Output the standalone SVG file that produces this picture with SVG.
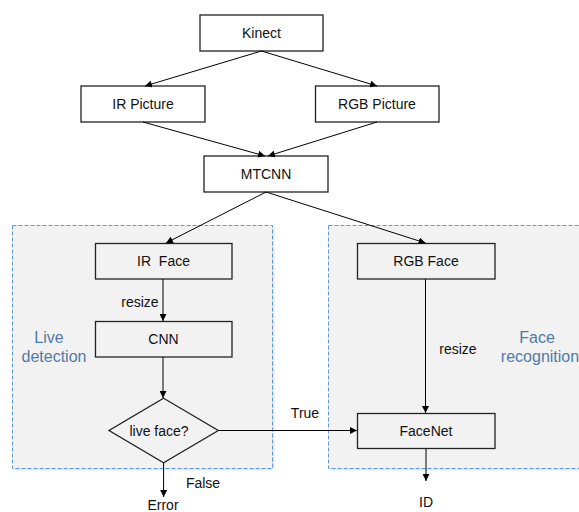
<svg xmlns="http://www.w3.org/2000/svg" width="579" height="512" viewBox="0 0 579 512">
<defs>
<marker id="ah" viewBox="0 0 10 10" refX="10" refY="5" markerWidth="7" markerHeight="7" markerUnits="userSpaceOnUse" orient="auto">
<path d="M0,0 L10,5 L0,10 z" fill="#000"/>
</marker>
<filter id="sh" x="-5%" y="-5%" width="110%" height="110%">
<feDropShadow dx="1" dy="1" stdDeviation="1" flood-color="#000" flood-opacity="0.15"/>
</filter>
</defs>
<style>
text{font-family:"Liberation Sans",Arial,sans-serif;font-size:14px;fill:#111;text-anchor:middle}
.box{fill:#fff;stroke:#222;stroke-width:1.3}
.gbox{fill:#f2f2f2;stroke:#222;stroke-width:1.3}
.cont{fill:#f2f2f2;stroke:#5b9bd5;stroke-width:1;stroke-dasharray:4 2;filter:url(#sh)}
text.lbl{fill:#4f7aa8;font-size:16px}
.conn line{stroke:#000;stroke-width:1;fill:none;marker-end:url(#ah)}
</style>
<rect width="579" height="512" fill="#fff"/>
<g id="live-detection">
<rect class="cont" x="12.5" y="225.5" width="260" height="243"/>
<text class="lbl" x="49" y="343">Live</text>
<text class="lbl" x="54" y="362">detection</text>
</g>
<g id="face-recognition">
<rect class="cont" x="328.5" y="225.5" width="260" height="243"/>
<text class="lbl" x="537" y="343">Face</text>
<text class="lbl" x="540" y="362">recognition</text>
</g>
<g id="kinect"><rect class="box" x="200" y="15" width="123" height="36"/><text x="261.5" y="38">Kinect</text></g>
<g id="ir-picture"><rect class="box" x="81" y="86" width="124" height="36"/><text x="143" y="109">IR Picture</text></g>
<g id="rgb-picture"><rect class="box" x="315.5" y="86" width="123.5" height="36"/><text x="377" y="109">RGB Picture</text></g>
<g id="mtcnn"><rect class="box" x="204" y="156" width="124" height="36"/><text x="266" y="179">MTCNN</text></g>
<g id="ir-face"><rect class="gbox" x="95.5" y="243.5" width="136.5" height="35.5"/><text x="163.5" y="266" xml:space="preserve">IR  Face</text></g>
<g id="cnn"><rect class="gbox" x="95.5" y="321.5" width="136.5" height="35.5"/><text x="163.5" y="344">CNN</text></g>
<g id="live-face"><polygon class="gbox" points="163.6,398.3 218.3,430.5 163.6,462.7 109,430.5"/><text x="159" y="436">live face?</text></g>
<g id="rgb-face"><rect class="gbox" x="357.5" y="243.5" width="137.5" height="35.5"/><text x="426" y="266">RGB Face</text></g>
<g id="facenet"><rect class="gbox" x="357.5" y="413.5" width="137.5" height="35"/><text x="426" y="436">FaceNet</text></g>
<g id="error"><text x="163" y="510">Error</text></g>
<g id="id"><text x="426" y="507">ID</text></g>
<g class="conn" id="connectors">
<line x1="261.5" y1="51" x2="145" y2="86"/>
<line x1="261.5" y1="51" x2="377" y2="86"/>
<line x1="143" y1="122" x2="265" y2="156"/>
<line x1="377" y1="122" x2="268" y2="156"/>
<line x1="266" y1="192" x2="166" y2="243"/>
<line x1="266" y1="192" x2="425.5" y2="243"/>
<line x1="163" y1="279" x2="163" y2="321"/>
<line x1="163" y1="357" x2="163" y2="398"/>
<line x1="163.6" y1="463" x2="163.6" y2="497"/>
<line x1="218.3" y1="430.5" x2="357" y2="430.5"/>
<line x1="425.5" y1="279" x2="425.5" y2="413"/>
<line x1="426" y1="449" x2="426" y2="481"/>
</g>
<g id="labels">
<text x="140" y="307">resize</text>
<text x="458" y="354">resize</text>
<text x="305" y="418">True</text>
<text x="203" y="488">False</text>
</g>
</svg>
